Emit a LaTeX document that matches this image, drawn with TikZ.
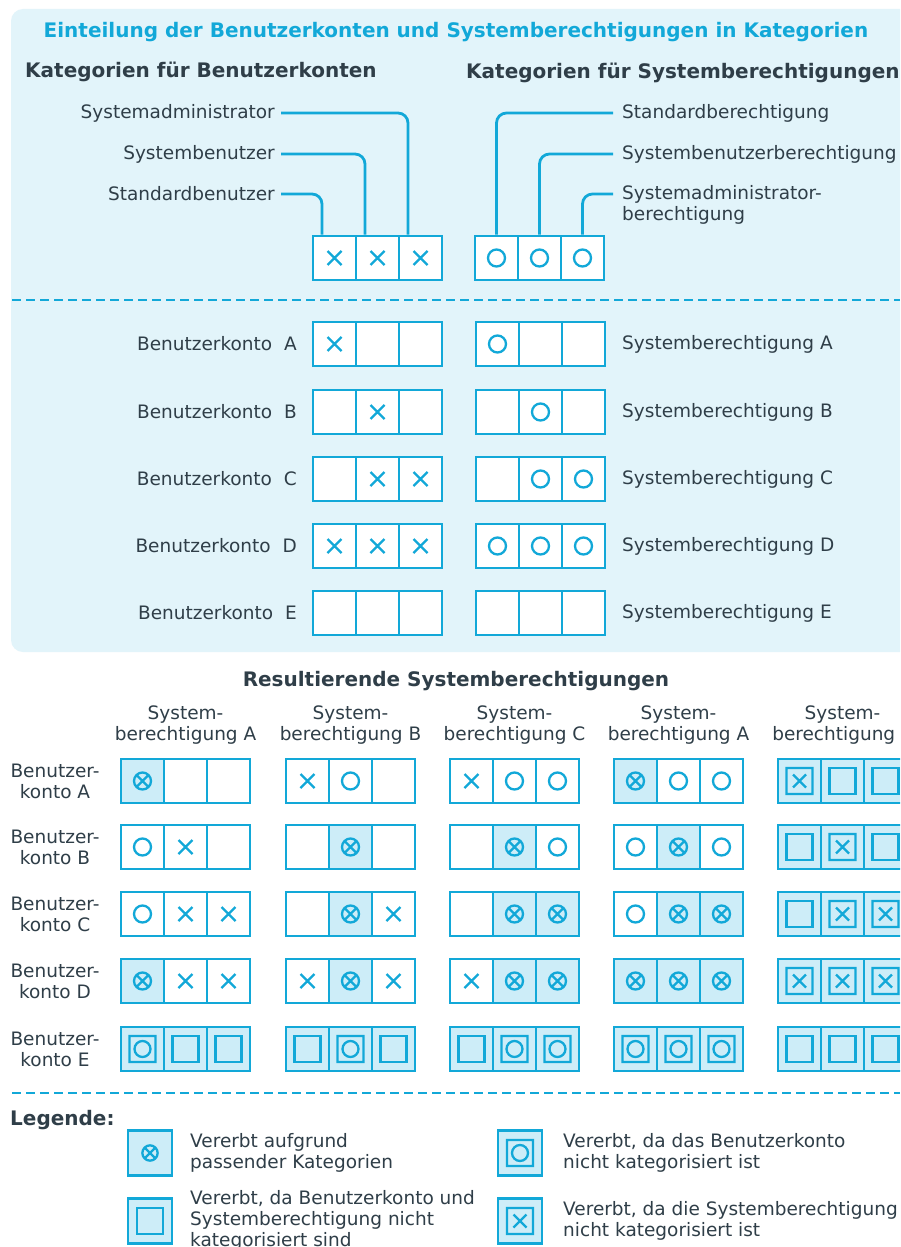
\documentclass[tikz,border=0pt]{standalone}
\usepackage{fontspec}
\setmainfont{DejaVu Sans}
\definecolor{cy}{HTML}{12A8D8}
\definecolor{dk}{HTML}{2F3E48}
\definecolor{pbg}{HTML}{E2F4FA}
\definecolor{cfill}{HTML}{CDEDF8}
\tikzset{
 cell/.style={draw=cy, line width=2.8pt, minimum width=43pt, minimum height=44pt, inner sep=0pt, fill=white},
 c-e/.style={cell}, c-x/.style={cell}, c-o/.style={cell},
 c-ox/.style={cell, fill=cfill}, c-q/.style={cell, fill=cfill},
 c-qo/.style={cell, fill=cfill}, c-qx/.style={cell, fill=cfill},
 sym/.style={draw=cy, line width=2.3pt},
 pics/s-e/.style={code={}},
 pics/s-x/.style={code={\draw[sym] (-7,-7)--(7,7) (-7,7)--(7,-7);}},
 pics/s-o/.style={code={\draw[sym] (0,0) circle[radius=8.5];}},
 pics/s-ox/.style={code={\draw[sym] (0,0) circle[radius=8.5] (-6,-6)--(6,6) (-6,6)--(6,-6);}},
 pics/s-q/.style={code={\draw[sym] (-13,-13) rectangle (13,13);}},
 pics/s-qo/.style={code={\draw[sym] (-13,-13) rectangle (13,13) (0,0) circle[radius=8];}},
 pics/s-qx/.style={code={\draw[sym] (-13,-13) rectangle (13,13) (-6.5,-6.5)--(6.5,6.5) (-6.5,6.5)--(6.5,-6.5);}},
 txt/.style={text=dk, inner sep=0pt, font=\fontsize{18.5}{21}\selectfont},
 head/.style={text=dk, inner sep=0pt, font=\bfseries\fontsize{20}{24}\selectfont},
 conn/.style={draw=cy, line width=2.8pt, rounded corners=10pt},
 dline/.style={draw=cy, line width=2.8pt, dash pattern=on 9pt off 5pt},
}
\newcommand\trip[6]{%
 \node[c-#4] (#1a) at (#2+21.5,#3) {};
 \node[c-#5] (#1b) at (#2+64.5,#3) {};
 \node[c-#6] (#1c) at (#2+107.5,#3) {};
 \pic at (#1a) {s-#4}; \pic at (#1b) {s-#5}; \pic at (#1c) {s-#6};
}
\begin{document}
\begin{tikzpicture}[x=1pt,y=-1pt]
\useasboundingbox (0,0) rectangle (900,1247);
\clip (0,0) rectangle (900,1247);
\fill[white] (0,0) rectangle (900,1247);
\fill[pbg, rounded corners=12pt] (11,9) rectangle (940,652);
% title and headings
\node[head, text=cy] (title) at (456,32) {Einteilung der Benutzerkonten und Systemberechtigungen in Kategorien};
\node[head, anchor=west] (hl) at (25,72) {Kategorien für Benutzerkonten};
\node[head, anchor=west] (hr) at (466,73) {Kategorien für Systemberechtigungen};
% category boxes
\trip{tl}{313}{258}{x}{x}{x}
\trip{tr}{475}{258}{o}{o}{o}
\node[txt, anchor=east, inner xsep=6pt] (sa) at (281,113) {Systemadministrator};
\node[txt, anchor=east, inner xsep=6pt] (sb) at (281,154) {Systembenutzer};
\node[txt, anchor=east, inner xsep=6pt] (sd) at (281,194) {Standardbenutzer};
\draw[conn] (sa.east) -| ([xshift=-12.5pt]tlc.north);
\draw[conn] (sb.east) -| ([xshift=-12.5pt]tlb.north);
\draw[conn] (sd.east) -| ([xshift=-12.5pt]tla.north);
\node[txt, anchor=west, inner xsep=9pt] (ps) at (613,113) {Standardberechtigung};
\node[txt, anchor=west, inner xsep=9pt] (pb) at (613,154) {Systembenutzerberechtigung};
\node[txt, anchor=west, inner xsep=9pt] (pa) at (613,194) {Systemadministrator-};
\node[txt, anchor=west] (pa2) at (622,215) {berechtigung};
\draw[conn] (ps.west) -| (tra.north);
\draw[conn] (pb.west) -| (trb.north);
\draw[conn] (pa.west) -| (trc.north);
% dashed separator
\draw[dline] (12,300) -- (900,300);
% accounts and permissions
\trip{ua}{313}{344}{x}{e}{e}
\trip{ub}{313}{412}{e}{x}{e}
\trip{uc}{313}{479}{e}{x}{x}
\trip{ud}{313}{546}{x}{x}{x}
\trip{ue}{313}{613}{e}{e}{e}
\trip{pa}{476}{344}{o}{e}{e}
\trip{pb}{476}{412}{e}{o}{e}
\trip{pc}{476}{479}{e}{o}{o}
\trip{pd}{476}{546}{o}{o}{o}
\trip{pe}{476}{613}{e}{e}{e}
\node[txt, anchor=east] (la) at (297,344) {Benutzerkonto\hspace{6pt} A};
\node[txt, anchor=east] (lb) at (297,412) {Benutzerkonto\hspace{6pt} B};
\node[txt, anchor=east] (lc) at (297,479) {Benutzerkonto\hspace{6pt} C};
\node[txt, anchor=east] (ld) at (297,546) {Benutzerkonto\hspace{6pt} D};
\node[txt, anchor=east] (le) at (297,613) {Benutzerkonto\hspace{6pt} E};
\node[txt, anchor=west] (ra) at (622,344) {Systemberechtigung A};
\node[txt, anchor=west] (rb) at (622,412) {Systemberechtigung B};
\node[txt, anchor=west] (rc) at (622,479) {Systemberechtigung C};
\node[txt, anchor=west] (rd) at (622,546) {Systemberechtigung D};
\node[txt, anchor=west] (re) at (622,613) {Systemberechtigung E};
% results
\node[head] (res) at (456,681) {Resultierende Systemberechtigungen};
\node[txt, align=center] (h1) at (185.5,725) {System-\\berechtigung A};
\node[txt, align=center] (h2) at (350.5,725) {System-\\berechtigung B};
\node[txt, align=center] (h3) at (514.5,725) {System-\\berechtigung C};
\node[txt, align=center] (h4) at (678.5,725) {System-\\berechtigung A};
\node[txt, align=center] (h5) at (842.5,725) {System-\\berechtigung E};
\node[txt, align=center] (k1) at (55,781) {Benutzer-\\konto A};
\node[txt, align=center] (k2) at (55,847) {Benutzer-\\konto B};
\node[txt, align=center] (k3) at (55,914) {Benutzer-\\konto C};
\node[txt, align=center] (k4) at (55,981) {Benutzer-\\konto D};
\node[txt, align=center] (k5) at (55,1049) {Benutzer-\\konto E};
% group 1
\trip{g1a}{121}{781}{ox}{e}{e}
\trip{g1b}{121}{847}{o}{x}{e}
\trip{g1c}{121}{914}{o}{x}{x}
\trip{g1d}{121}{981}{ox}{x}{x}
\trip{g1e}{121}{1049}{qo}{q}{q}
% group 2
\trip{g2a}{286}{781}{x}{o}{e}
\trip{g2b}{286}{847}{e}{ox}{e}
\trip{g2c}{286}{914}{e}{ox}{x}
\trip{g2d}{286}{981}{x}{ox}{x}
\trip{g2e}{286}{1049}{q}{qo}{q}
% group 3
\trip{g3a}{450}{781}{x}{o}{o}
\trip{g3b}{450}{847}{e}{ox}{o}
\trip{g3c}{450}{914}{e}{ox}{ox}
\trip{g3d}{450}{981}{x}{ox}{ox}
\trip{g3e}{450}{1049}{q}{qo}{qo}
% group 4
\trip{g4a}{614}{781}{ox}{o}{o}
\trip{g4b}{614}{847}{o}{ox}{o}
\trip{g4c}{614}{914}{o}{ox}{ox}
\trip{g4d}{614}{981}{ox}{ox}{ox}
\trip{g4e}{614}{1049}{qo}{qo}{qo}
% group 5
\trip{g5a}{778}{781}{qx}{q}{q}
\trip{g5b}{778}{847}{q}{qx}{q}
\trip{g5c}{778}{914}{q}{qx}{qx}
\trip{g5d}{778}{981}{qx}{qx}{qx}
\trip{g5e}{778}{1049}{q}{q}{q}
% legend
\draw[dline] (12,1093) -- (900,1093);
\node[head, anchor=west] (leg) at (10,1120) {Legende:};
\node[cell, fill=cfill, minimum width=44pt, minimum height=45pt, line width=2.2pt] (i1) at (150,1153) {};
\pic[scale=0.9] at (i1) {s-ox};
\node[cell, fill=cfill, minimum width=44pt, minimum height=45pt, line width=2.2pt] (i2) at (520,1153) {};
\pic at (i2) {s-qo};
\node[cell, fill=cfill, minimum width=44pt, minimum height=45pt, line width=2.2pt] (i3) at (150,1221) {};
\pic at (i3) {s-q};
\node[cell, fill=cfill, minimum width=44pt, minimum height=45pt, line width=2.2pt] (i4) at (520,1221) {};
\pic at (i4) {s-qx};
\node[txt, align=left, anchor=west] (t1) at (190,1153) {Vererbt aufgrund\\passender Kategorien};
\node[txt, align=left, anchor=west] (t2) at (563,1153) {Vererbt, da das Benutzerkonto\\nicht kategorisiert ist};
\node[txt, align=left, anchor=west] (t3) at (190,1220) {Vererbt, da Benutzerkonto und\\Systemberechtigung nicht\\kategorisiert sind};
\node[txt, align=left, anchor=west] (t4) at (563,1221) {Vererbt, da die Systemberechtigung\\nicht kategorisiert ist};
\end{tikzpicture}
\end{document}
